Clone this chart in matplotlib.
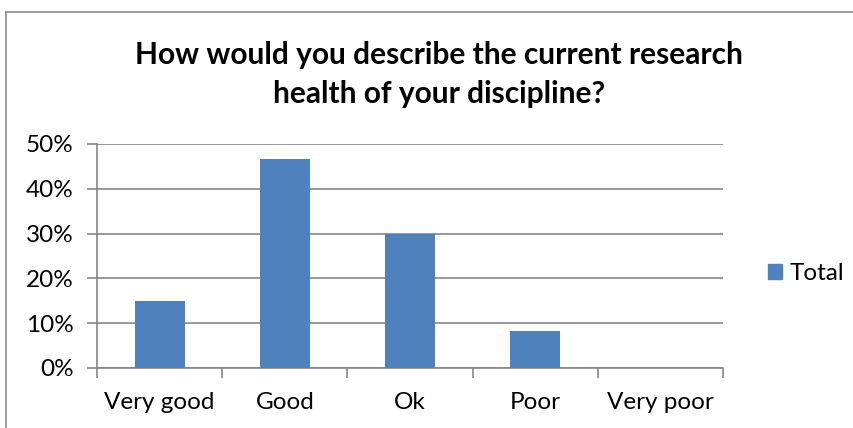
import matplotlib.pyplot as plt
from matplotlib.lines import Line2D
from matplotlib.patches import Patch
from matplotlib.ticker import PercentFormatter, FixedLocator
import numpy as np

categories = ['Very good', 'Good', 'Ok', 'Poor', 'Very poor']
share = [0.15, 0.467, 0.30, 0.083, 0.0]
y_ticks = [0.0, 0.1, 0.2, 0.3, 0.4, 0.5]

bar_color = '#4F81BD'
grid_color = '#868686'
font = 'Lato'
label_size = 17.5

W, H = 854, 428
fig = plt.figure(figsize=(W / 100, H / 100), dpi=100)
fig.patch.set_facecolor('white')

# chart area border (left and top edges visible)
fig.add_artist(Line2D([6.5 / W, 6.5 / W], [0, 1 - 11.5 / H], color='#8C8C8C', lw=1.2))
fig.add_artist(Line2D([6.5 / W, 1], [1 - 11.5 / H, 1 - 11.5 / H], color='#8C8C8C', lw=1.2))

ax = fig.add_axes([97 / W, 1 - 368 / H, (723 - 97) / W, (368 - 144) / H])
x = np.arange(len(categories))
ax.bar(x, share, width=0.4, color=bar_color, zorder=3)

ax.set_xlim(-0.5, len(categories) - 0.5)
ax.set_ylim(0, 0.5)
ax.set_yticks(y_ticks)
ax.yaxis.set_major_formatter(PercentFormatter(1.0, decimals=0))
ax.grid(axis='y', color=grid_color, lw=1.2, zorder=0)

for side in ['top', 'right']:
    ax.spines[side].set_visible(False)
for side in ['left', 'bottom']:
    ax.spines[side].set_color(grid_color)
    ax.spines[side].set_linewidth(1.2)

ax.set_xticks(x)
ax.set_xticklabels(categories)
ax.xaxis.set_minor_locator(FixedLocator(np.arange(-0.5, len(categories), 1.0)))
ax.tick_params(axis='x', which='major', length=0, pad=17)
ax.tick_params(axis='x', which='minor', length=7, color=grid_color, width=1.2)
ax.tick_params(axis='y', length=7, color=grid_color, width=1.2, pad=10)
for lbl in ax.get_xticklabels() + ax.get_yticklabels():
    lbl.set_fontfamily(font)
    lbl.set_fontsize(label_size)
    lbl.set_color('black')

fig.text(439 / W, 1 - 74.5 / H, 'How would you describe the current research\nhealth of your discipline?',
         ha='center', va='center', fontsize=21.5, fontweight='bold', family=font,
         linespacing=1.45)

ax.legend(handles=[Patch(color=bar_color, label='Total')], loc='center left',
          bbox_to_anchor=(1.037, 0.42), frameon=False, handlelength=0.58,
          handleheight=0.58, handletextpad=0.3, prop={'family': font, 'size': label_size})

fig.savefig('out.png', dpi=100)
